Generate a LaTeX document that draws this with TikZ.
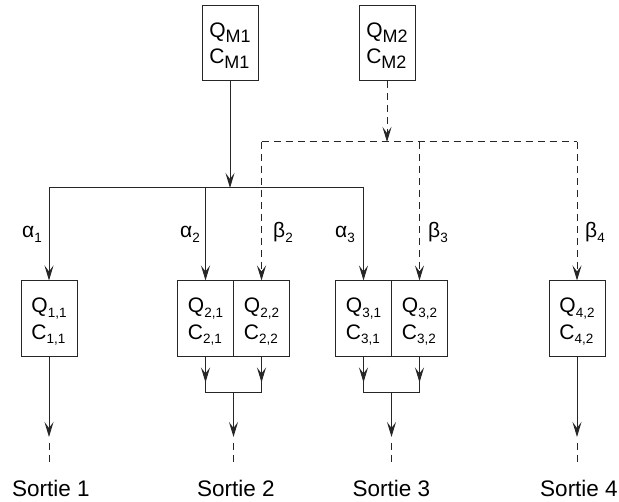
\documentclass[tikz,border=0pt]{standalone}
\usepackage{fontspec}
\setmainfont{Liberation Sans}
\usetikzlibrary{arrows.meta}
\newcommand{\sbM}[1]{\raisebox{-4.5pt}[0pt][0pt]{\fontsize{18}{18}\selectfont #1}}
\newcommand{\sbs}[1]{\raisebox{-4.5pt}[0pt][0pt]{\fontsize{13.5}{13.5}\selectfont #1}}
\begin{document}
\begin{tikzpicture}[x=1pt,y=-1pt,
 line/.style={draw=black!85, line width=1pt},
 arr/.style={line, -{Stealth[length=15pt,width=9pt,inset=6pt]}},
 dsh/.style={dash pattern=on 7pt off 5pt},
 box/.style={draw=black!85, line width=1pt, minimum width=56pt, minimum height=76pt, inner sep=0pt, align=left, font=\fontsize{21}{26.5}\selectfont},
 tbox/.style={box, minimum height=75pt, font=\fontsize{21}{26}\selectfont},
 lab/.style={anchor=base, font=\fontsize{21}{21}\selectfont},
 outlab/.style={anchor=base, font=\fontsize{22.5}{22.5}\selectfont}]
\useasboundingbox (0,0) rectangle (619,502);
% top boxes
\node[tbox] (m1) at (230,43.5) {Q\sbM{M1}\\C\sbM{M1}};
\node[tbox] (m2) at (387,43.5) {Q\sbM{M2}\\C\sbM{M2}};
% lower boxes
\node[box] (b11) at (49,319) {Q\sbs{1,1}\\C\sbs{1,1}};
\node[box] (b21) at (205.5,319) {Q\sbs{2,1}\\C\sbs{2,1}};
\node[box] (b22) at (261.5,319) {Q\sbs{2,2}\\C\sbs{2,2}};
\node[box] (b31) at (363.5,319) {Q\sbs{3,1}\\C\sbs{3,1}};
\node[box] (b32) at (419.5,319) {Q\sbs{3,2}\\C\sbs{3,2}};
\node[box] (b42) at (577,319) {Q\sbs{4,2}\\C\sbs{4,2}};
% junctions
\coordinate (s1) at (230,188);
\coordinate (d1) at (387,142);
% solid distribution
\draw[arr] (m1) -- (s1);
\draw[line] (b11.north |- s1) -- (b31.north |- s1);
\draw[arr] (b11.north |- s1) -- (b11.north);
\draw[arr] (b21.north |- s1) -- (b21.north);
\draw[arr] (b31.north |- s1) -- (b31.north);
% dashed distribution
\draw[arr, dsh] (m2) -- (d1);
\draw[line, dsh] (b22.north |- d1) -- (b42.north |- d1);
\draw[arr, dsh] (b22.north |- d1) -- (b22.north);
\draw[arr, dsh] (b32.north |- d1) -- (b32.north);
\draw[arr, dsh] (b42.north |- d1) -- (b42.north);
% labels
\node[lab] (a1) at (32,238) {α\sbs{1}};
\node[lab] (a2) at (190,238) {α\sbs{2}};
\node[lab] (a3) at (345,238) {α\sbs{3}};
\node[lab] (be2) at (283,238) {β\sbs{2}};
\node[lab] (be3) at (438,238) {β\sbs{3}};
\node[lab] (be4) at (595,238) {β\sbs{4}};
% joins
\coordinate (j2) at (233.5,393);
\coordinate (j3) at (391.5,393);
\draw[line] (b21.south) -- (b21.south |- j2) -- (b22.south |- j2) -- (b22.south);
\draw[arr] (b21.south) -- ++(0,25);
\draw[arr] (b22.south) -- ++(0,25);
\draw[line] (b31.south) -- (b31.south |- j3) -- (b32.south |- j3) -- (b32.south);
\draw[arr] (b31.south) -- ++(0,25);
\draw[arr] (b32.south) -- ++(0,25);
% outputs
\coordinate (o1) at (49,437);
\coordinate (o2) at (233.5,437);
\coordinate (o3) at (391.5,437);
\coordinate (o4) at (577,437);
\draw[arr] (b11.south) -- (o1);
\draw[arr] (j2) -- (o2);
\draw[arr] (j3) -- (o3);
\draw[arr] (b42.south) -- (o4);
\foreach \o in {o1,o2,o3,o4}{
  \draw[line, dsh] ([yshift=-6pt]\o) -- ([yshift=-26pt]\o);
}
\node[outlab] (t1) at (51,497) {Sortie 1};
\node[outlab] (t2) at (236,497) {Sortie 2};
\node[outlab] (t3) at (391.5,497) {Sortie 3};
\node[outlab] (t4) at (579,497) {Sortie 4};
\end{tikzpicture}
\end{document}
